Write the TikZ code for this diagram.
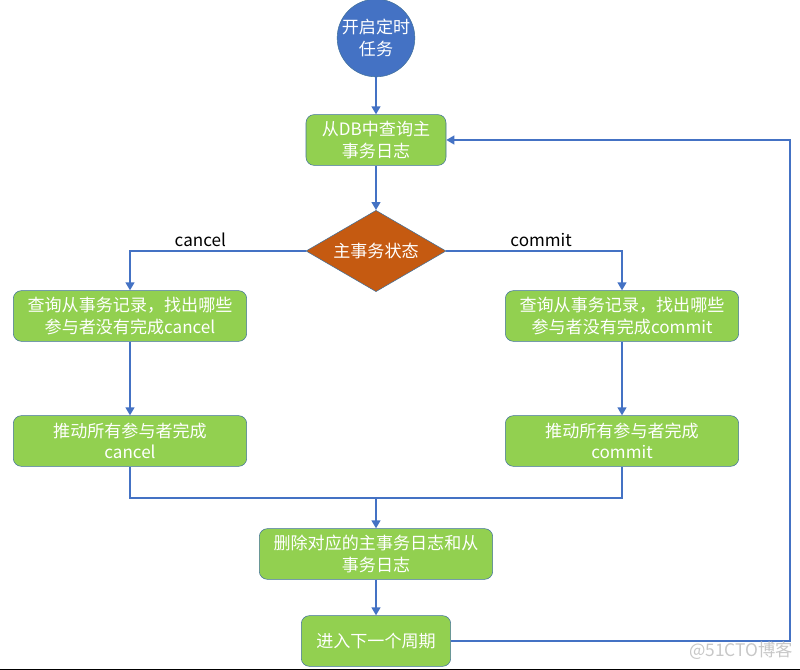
\documentclass[tikz,border=0pt]{standalone}
\usepackage{fontspec}
\setmainfont{Noto Sans CJK SC}
\usetikzlibrary{shapes.geometric,arrows.meta}
\definecolor{lineblue}{HTML}{4472C4}
\definecolor{edgeblue}{HTML}{41719C}
\definecolor{boxgreen}{HTML}{92D050}
\definecolor{rust}{HTML}{C55A11}
\begin{document}
\begin{tikzpicture}[x=0.75pt, y=-0.75pt, font=\fontsize{12.8}{16}\selectfont,
        flow/.style={draw=lineblue, line width=2.2pt, -{Triangle[length=6pt, width=6.5pt]}},
        link/.style={draw=lineblue, line width=2.2pt},
        stepbox/.style={draw=edgeblue, fill=boxgreen, rounded corners=6pt, text=white, align=center, minimum height=38pt, inner sep=2pt},
        startnode/.style={circle, draw=edgeblue, fill=lineblue, text=white, align=center, minimum size=50pt, inner sep=0pt},
        decision/.style={diamond, draw=edgeblue, fill=rust, text=white, aspect=1.73, minimum width=105pt, minimum height=61pt, inner sep=0pt}]
    \useasboundingbox (0,0) rectangle (800,670);

    \node[startnode] (start) at (376,38) {开启定时\\任务};
    \node[stepbox, minimum width=105pt] (query) at (376,140) {从DB中查询主\\事务日志};
    \node[decision] (state) at (376,251) {主事务状态};

    \node[stepbox, minimum width=175pt] (findc) at (130,316) {查询从事务记录，找出哪些\\参与者没有完成cancel};
    \node[stepbox, minimum width=175pt] (findm) at (622,316) {查询从事务记录，找出哪些\\参与者没有完成commit};
    \node[stepbox, minimum width=175pt] (pushc) at (130,441) {推动所有参与者完成\\cancel};
    \node[stepbox, minimum width=175pt] (pushm) at (622,441) {推动所有参与者完成\\commit};

    \coordinate (join) at (376,498);
    \node[stepbox, minimum width=175pt] (cleanup) at (376,554) {删除对应的主事务日志和从\\事务日志};
    \node[stepbox, minimum width=112pt] (next) at (376,641) {进入下一个周期};
    \coordinate (loop) at (790,641);

    \draw[flow] (start) -- (query);
    \draw[flow] (query) -- (state);
    \draw[flow] (state.west) -| node[pos=0.3, above=-1pt] {cancel} (findc.north);
    \draw[flow] (state.east) -| node[pos=0.27, above=-1pt] {commit} (findm.north);
    \draw[flow] (findc) -- (pushc);
    \draw[flow] (findm) -- (pushm);
    \draw[link] (pushc.south) |- (join) -| (pushm.south);
    \draw[flow] (join) -- (cleanup);
    \draw[flow] (cleanup) -- (next);
    \draw[flow] (next.east) -- (loop) |- (query.east);

    \node[text=black!22, font=\fontsize{13}{15}\selectfont] (mark) at (741,651) {@51CTO博客};
    \draw[black, line width=1pt] (0,669.5) -- (800,669.5);
\end{tikzpicture}
\end{document}
